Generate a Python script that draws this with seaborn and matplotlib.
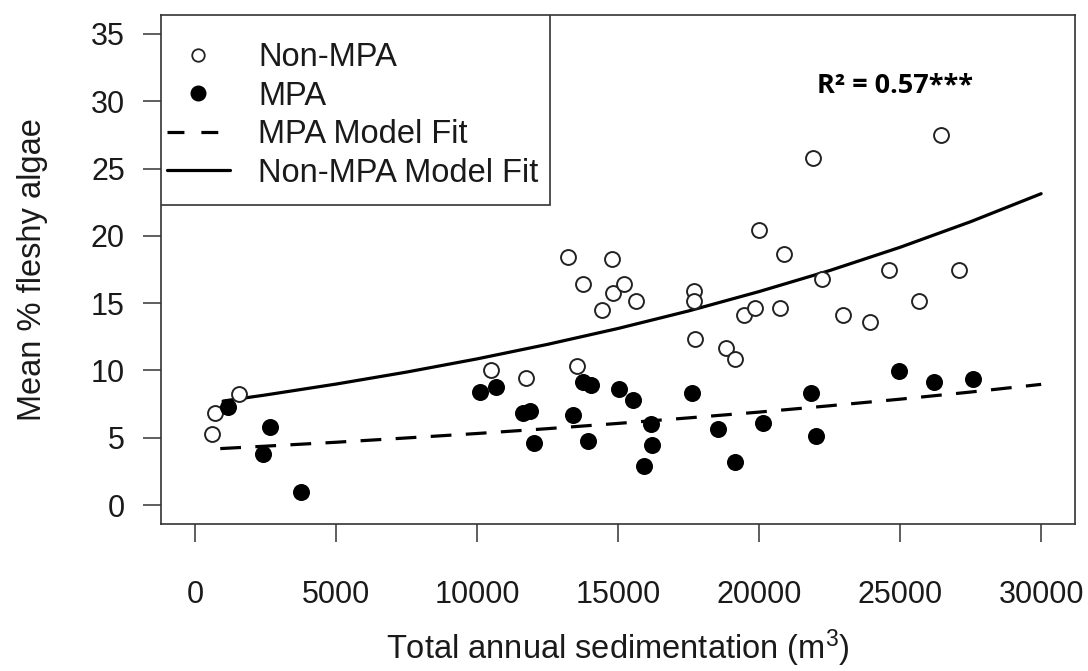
import matplotlib
matplotlib.use('Agg')
import matplotlib.pyplot as plt
from matplotlib.lines import Line2D
from matplotlib.patches import Rectangle
import numpy as np
import pandas as pd
import seaborn as sns

nonmpa_x = [616, 700, 1564, 10510, 11730, 13212, 13555, 13745, 14442, 14775, 14810,
            15226, 15640, 17678, 17678, 17713, 18840, 19160, 19455, 19871, 20012,
            20734, 20901, 21907, 22216, 22986, 23934, 24609, 25675, 26446, 27097]
nonmpa_y = [5.26, 6.87, 8.28, 10.01, 9.47, 18.44, 10.33, 16.46, 14.46, 18.29, 15.77,
            16.46, 15.15, 15.89, 15.15, 12.31, 11.64, 10.83, 14.09, 14.61, 20.47,
            14.61, 18.66, 25.78, 16.76, 14.09, 13.62, 17.45, 15.15, 27.46, 17.45]

mpa_x = [1173, 2417, 2654, 3780, 10095, 10687, 11635, 11896, 12014, 13412, 13745,
         13923, 14030, 15046, 15544, 15924, 16160, 16196, 17618, 18537, 19160,
         20142, 21825, 22002, 24964, 26209, 27595]
mpa_y = [7.32, 3.78, 5.78, 0.94, 8.43, 8.80, 6.87, 6.99, 4.65, 6.70, 9.14,
         4.77, 8.92, 8.65, 7.81, 2.92, 6.01, 4.45, 8.35, 5.64, 3.17,
         6.13, 8.35, 5.14, 9.96, 9.14, 9.34]

# model fit curves
fit_nonmpa_x = [1000, 2500, 5000, 7500, 10000, 12500, 15000, 17500, 20000, 22500, 25000, 27500, 30000]
fit_nonmpa_y = [7.73, 8.18, 8.99, 9.88, 10.86, 11.94, 13.12, 14.42, 15.86, 17.42, 19.15, 21.05, 23.13]
fit_mpa_x = [900, 2500, 5000, 7500, 10000, 12500, 15000, 17500, 20000, 22500, 25000, 27500, 30000]
fit_mpa_y = [4.20, 4.38, 4.67, 4.99, 5.32, 5.68, 6.07, 6.48, 6.91, 7.38, 7.87, 8.40, 8.97]

x_ticks = [0, 5000, 10000, 15000, 20000, 25000, 30000]
y_ticks = [0, 5, 10, 15, 20, 25, 30, 35]

sns.set_style('ticks')
plt.rcParams['font.family'] = ['Liberation Sans', 'DejaVu Sans']
plt.rcParams['mathtext.fontset'] = 'custom'
plt.rcParams['mathtext.rm'] = 'Liberation Sans'
plt.rcParams['mathtext.it'] = 'Liberation Sans'
txt = '#1a1a1a'
edge = '#333333'

fig = plt.figure(figsize=(10.88, 6.71), dpi=100)
ax = fig.add_axes([161 / 1088, 147 / 671, 914 / 1088, 509 / 671])

df_non = pd.DataFrame({'x': nonmpa_x, 'y': nonmpa_y})
df_mpa = pd.DataFrame({'x': mpa_x, 'y': mpa_y})

sns.lineplot(x=fit_nonmpa_x, y=fit_nonmpa_y, ax=ax, color='black', lw=2.3, zorder=2)
sns.lineplot(x=fit_mpa_x, y=fit_mpa_y, ax=ax, color='black', lw=2.3,
             dashes=False, zorder=2).lines[-1].set_dashes([6.5, 4.5])

sns.scatterplot(data=df_non, x='x', y='y', ax=ax, s=115, facecolor='white',
                edgecolor='#222222', linewidth=1.4, zorder=3)
sns.scatterplot(data=df_mpa, x='x', y='y', ax=ax, s=150, color='black',
                edgecolor='black', linewidth=0, zorder=3)

ax.set_xlim(-1200, 31200)
ax.set_ylim(-1.4, 36.4)
ax.set_xticks(x_ticks)
ax.set_yticks(y_ticks)
ax.set_xticklabels([str(v) for v in x_ticks])
ax.set_yticklabels([str(v) for v in y_ticks])
ax.tick_params(axis='x', length=13, width=1.1, pad=27, labelsize=22, colors=edge, labelcolor=txt)
ax.tick_params(axis='y', length=13, width=1.1, pad=13, labelsize=22, colors=edge, labelcolor=txt)
for sp in ax.spines.values():
    sp.set_visible(True)
    sp.set_linewidth(1.2)
    sp.set_color(edge)

ax.set_xlabel('Total annual sedimentation (m$^3$)', fontsize=23.5, color=txt, labelpad=13)
ax.set_ylabel('Mean % fleshy algae', fontsize=23.5, color=txt, labelpad=31)

ax.text(22050, 31.1, 'R² = 0.57***', fontsize=19.5, fontweight='bold',
        family=['Open Sans', 'DejaVu Sans'], color='black', va='center', ha='left')

# legend box (R style: tight left padding, roomy top/bottom)
ax.add_patch(Rectangle((0, (524 - 205) / 509), (550 - 161) / 914, 1 - (524 - 205) / 509,
                       transform=ax.transAxes, facecolor='white', edgecolor=edge,
                       linewidth=1.2, zorder=4))
handles = [
    Line2D([], [], ls='none', marker='o', markersize=9, markerfacecolor='white',
           markeredgecolor='#222222', markeredgewidth=1.3),
    Line2D([], [], ls='none', marker='o', markersize=10.5, markerfacecolor='black',
           markeredgecolor='black'),
    Line2D([], [], color='black', lw=2.3, dashes=[5.3, 5.3]),
    Line2D([], [], color='black', lw=2.3),
]
labels = ['Non-MPA', 'MPA', 'MPA Model Fit', 'Non-MPA Model Fit']
leg = ax.legend(handles, labels, loc='upper left',
                bbox_to_anchor=((167 - 161) / 914, (524 - 42) / 509),
                borderaxespad=0, fontsize=23.5, frameon=False,
                handlelength=1.93, handletextpad=0.86, labelspacing=0.23,
                borderpad=0)
leg.set_zorder(5)
for t in leg.get_texts():
    t.set_color(txt)

fig.savefig('out.png', dpi=100)
